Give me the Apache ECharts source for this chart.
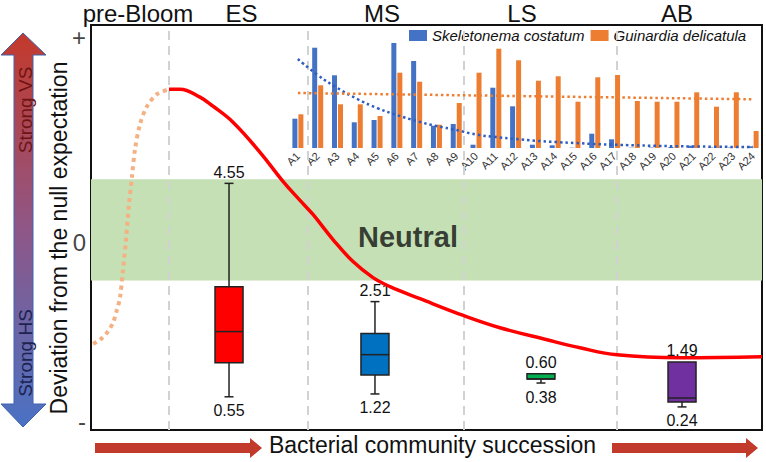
<!DOCTYPE html>
<html><head><meta charset="utf-8">
<script src="https://cdn.jsdelivr.net/npm/echarts@6/dist/echarts.min.js"></script>
<style>html,body{margin:0;padding:0;background:#fff}#c{width:766px;height:462px}</style>
</head><body><div id="c"></div>
<script>
// ---------- data (schematic units: x 0-100 along succession, y 0-100 deviation) ----------
const stages = ['pre-Bloom', 'ES', 'MS', 'LS', 'AB'];
const stageBoundaries = [11.62, 32.34, 55.59, 78.39];
const boxX = [20.57, 42.32, 67.06, 88.08];
const boxMin = [8.2, 8.9, 11.6, 5.7];
const boxQ1 = [16.6, 13.6, 12.6, 6.9];
const boxMedian = [24.3, 18.6, 12.6, 7.9];
const boxQ3 = [35.4, 23.8, 13.9, 16.8];
const boxMax = [60.9, 31.7, 13.9, 16.8];
const boxTopLabels = ['4.55', '2.51', '0.60', '1.49'];
const boxBottomLabels = ['0.55', '1.22', '0.38', '0.24'];
const curveX = [11.62, 13.26, 16.24, 18.18, 21.16, 25.19, 28.61, 31.15, 33.08, 36.07, 39.05, 42.03, 44.56, 49.03, 55.59, 60.95, 67.96, 72.88, 78.39, 87.78, 100.0];
const curveY = [84.16, 84.16, 82.18, 79.95, 75.99, 68.56, 61.39, 56.68, 53.22, 47.03, 41.58, 37.62, 35.40, 32.43, 28.22, 25.25, 22.28, 20.30, 18.56, 17.82, 18.07];
const preX = [0.30, 1.34, 2.38, 3.28, 3.87, 4.32, 4.77, 5.22, 5.66, 6.11, 6.56, 7.30, 8.35, 9.84, 11.62];
const preY = [21.29, 22.28, 24.01, 26.49, 29.70, 32.67, 39.60, 47.03, 55.69, 62.62, 69.31, 75.50, 79.95, 82.92, 84.16];
const neutralRange = [36.9, 61.9];
const neutralPos = [47.24, 47.77];
const yTickLabels = ['+', '0', '-'];
const yTickValues = [97.0, 46.3, 2.2];

// inset: phytoplankton abundance per sample
const samples = ['A1','A2','A3','A4','A5','A6','A7','A8','A9','A10','A11','A12','A13','A14','A15','A16','A17','A18','A19','A20','A21','A22','A23','A24'];
const skeletonema = [29.3, 100.3, 72.7, 25.7, 28, 105, 87, 22.3, 24, 3.3, 60.3, 41.7, 3.3, 2.7, 0.3, 14.3, 8.7, 0.3, 0.5, 1, 2.3, 0.5, 0.5, 1.7];
const guinardia = [33.7, 62.7, 43.7, 43.7, 32, 75.3, 66.3, 23.3, 45, 75.3, 99.3, 87.7, 67.3, 71.7, 46.3, 70.7, 73, 47, 46.3, 46.3, 55.7, 41.3, 55.7, 17];
const skeletonemaTrend = [89, 73, 60, 49, 40, 33, 27, 22, 18, 13.5, 11, 9, 7.3, 6, 5, 4, 3.3, 2.7, 2.2, 1.8, 1.5, 1.3, 1.1, 1.0];
const guinardiaTrendEnds = [['A1', 55], ['A24', 48.7]];

// ---------- styles ----------
const FONT = 'Liberation Sans, Arial, sans-serif';
const boxColors = ['#ff0000', '#0070c0', '#00b050', '#7030a0'];
const stageLabelPx = [138, 241.5, 382, 522, 677];

const chart = echarts.init(document.getElementById('c'), null, { renderer: 'svg' });

const boxData = boxX.map((x, i) => [x, boxMin[i], boxQ1[i], boxMedian[i], boxQ3[i], boxMax[i]]);

const arrowGrad = new echarts.graphic.LinearGradient(0, 0, 0, 1, [
  { offset: 0, color: '#c4392b' },
  { offset: 0.5, color: '#8e5787' },
  { offset: 1, color: '#4a72c4' }
]);

const option = {
  animation: false,
  backgroundColor: '#fff',
  textStyle: { fontFamily: FONT },
  grid: [
    { left: 91, right: 4, top: 25, bottom: 32, show: true, borderColor: '#111', borderWidth: 2, backgroundColor: 'transparent' },
    { left: 288, right: 3, top: 38, bottom: 314 }
  ],
  xAxis: [
    { type: 'value', gridIndex: 0, min: 0, max: 100, show: false },
    { type: 'category', gridIndex: 1, data: samples, boundaryGap: true,
      axisLine: { show: false }, axisTick: { show: false }, splitLine: { show: false },
      axisLabel: { rotate: 45, fontSize: 11, color: '#333', interval: 0, margin: 6, fontFamily: FONT } }
  ],
  yAxis: [
    { type: 'value', gridIndex: 0, min: 0, max: 100, show: false },
    { type: 'value', gridIndex: 1, min: 0, max: 110, show: false }
  ],
  legend: {
    data: ['Skeletonema costatum', 'Guinardia delicatula'],
    left: 404, top: 23, itemWidth: 18, itemHeight: 11, itemGap: 6, padding: [5, 5, 5, 5],
    icon: 'rect',
    textStyle: { fontStyle: 'italic', fontSize: 15, color: '#111', fontFamily: FONT }
  },
  graphic: [
    // left double arrow
    { type: 'polygon', z: 10,
      shape: { points: [[23, 33], [46, 55], [33, 55], [33, 404], [46, 404], [23, 427], [1, 404], [14, 404], [14, 55], [1, 55]] },
      style: { fill: arrowGrad, stroke: '#3f62b0', lineWidth: 1 } },
    { type: 'text', z: 11, x: 25, y: 110, rotation: Math.PI / 2,
      style: { text: 'Strong VS', fontSize: 19, fontFamily: FONT, fill: '#6e1414', align: 'center', verticalAlign: 'middle' } },
    { type: 'text', z: 11, x: 25, y: 353, rotation: Math.PI / 2,
      style: { text: 'Strong HS', fontSize: 19, fontFamily: FONT, fill: '#1c2350', align: 'center', verticalAlign: 'middle' } },
    // y-axis title
    { type: 'text', z: 11, x: 59, y: 238, rotation: Math.PI / 2,
      style: { text: 'Deviation from the null expectation', fontSize: 23, fontFamily: FONT, fill: '#111', align: 'center', verticalAlign: 'middle' } },
    // stage labels
    ...stages.map((s, i) => ({ type: 'text', z: 11, x: stageLabelPx[i], y: 13,
      style: { text: s, fontSize: 24, fontFamily: FONT, fill: '#111', align: 'center', verticalAlign: 'middle' } })),
    // bottom arrows
    { type: 'polygon', z: 10, shape: { points: [[95, 443], [250, 443], [250, 438], [262, 448], [250, 458], [250, 453], [95, 453]] },
      style: { fill: '#c23a2c' } },
    { type: 'polygon', z: 10, shape: { points: [[612, 443], [746, 443], [746, 438], [758, 448], [746, 458], [746, 453], [612, 453]] },
      style: { fill: '#c23a2c' } },
    { type: 'text', z: 11, x: 432.5, y: 445,
      style: { text: 'Bacterial community succession', fontSize: 23, fontFamily: FONT, fill: '#111', align: 'center', verticalAlign: 'middle' } }
  ],
  series: [
    // neutral band + stage dividers
    { type: 'line', xAxisIndex: 0, yAxisIndex: 0, data: [], z: 1,
      markArea: { silent: true, itemStyle: { color: '#c4e0b4' },
        data: [[{ yAxis: neutralRange[0], xAxis: 0 }, { yAxis: neutralRange[1], xAxis: 100 }]] },
      markLine: { silent: true, symbol: 'none', label: { show: false },
        lineStyle: { color: '#d2d2d2', type: [9, 6], width: 2 },
        data: stageBoundaries.map(v => ({ xAxis: v })) } },
    // pre-bloom dotted curve
    { type: 'line', xAxisIndex: 0, yAxisIndex: 0, z: 3, smooth: 0.3, symbol: 'none',
      data: preX.map((x, i) => [x, preY[i]]),
      lineStyle: { color: '#f4b183', width: 4, type: [4, 4], cap: 'butt' } },
    // boxes
    { type: 'custom', xAxisIndex: 0, yAxisIndex: 0, z: 4, data: boxData,
      renderItem: function (params, api) {
        const i = params.dataIndex;
        const cx = api.coord([api.value(0), 0])[0];
        const y = k => api.coord([api.value(0), api.value(k)])[1];
        const yMin = y(1), yQ1 = y(2), yMed = y(3), yQ3 = y(4), yMax = y(5);
        const hw = 14, cw = 4.5;
        const ls = { stroke: '#222', lineWidth: 1.5 };
        const children = [];
        if (yMax < yQ3 - 0.5) {
          children.push({ type: 'line', shape: { x1: cx, y1: yMax, x2: cx, y2: yQ3 }, style: ls });
          children.push({ type: 'line', shape: { x1: cx - cw, y1: yMax, x2: cx + cw, y2: yMax }, style: ls });
        }
        if (yMin > yQ1 + 0.5) {
          children.push({ type: 'line', shape: { x1: cx, y1: yQ1, x2: cx, y2: yMin }, style: ls });
          children.push({ type: 'line', shape: { x1: cx - cw, y1: yMin, x2: cx + cw, y2: yMin }, style: ls });
        }
        children.push({ type: 'rect', shape: { x: cx - hw, y: yQ3, width: 2 * hw, height: Math.max(yQ1 - yQ3, 1) },
          style: { fill: boxColors[i], stroke: '#222', lineWidth: 1.5 } });
        children.push({ type: 'line', shape: { x1: cx - hw, y1: yMed, x2: cx + hw, y2: yMed }, style: ls });
        children.push({ type: 'text', x: cx, y: yMax - 3,
          style: { text: boxTopLabels[i], fontSize: 16, fontFamily: FONT, fill: '#111', align: 'center', verticalAlign: 'bottom' } });
        children.push({ type: 'text', x: cx, y: yMin + 6,
          style: { text: boxBottomLabels[i], fontSize: 16, fontFamily: FONT, fill: '#111', align: 'center', verticalAlign: 'top' } });
        return { type: 'group', children };
      } },
    // main red curve
    { type: 'line', xAxisIndex: 0, yAxisIndex: 0, z: 5, smooth: 0.4, symbol: 'none',
      data: curveX.map((x, i) => [x, curveY[i]]),
      lineStyle: { color: '#ff0000', width: 3.5 } },
    // Neutral label
    { type: 'scatter', xAxisIndex: 0, yAxisIndex: 0, z: 6, symbolSize: 0, silent: true,
      data: [neutralPos],
      label: { show: true, position: 'inside', formatter: 'Neutral', fontSize: 29, fontWeight: 'bold', color: '#111', fontFamily: FONT } },
    // y tick labels
    { type: 'scatter', xAxisIndex: 0, yAxisIndex: 0, z: 6, symbolSize: 0, silent: true, clip: false,
      data: yTickValues.map((v, i) => ({ value: [0, v], name: yTickLabels[i] })),
      label: { show: true, position: 'left', distance: 5, formatter: p => p.name, fontSize: 24, color: '#111', fontFamily: FONT } },
    // inset bars
    { name: 'Skeletonema costatum', type: 'bar', xAxisIndex: 1, yAxisIndex: 1, z: 7,
      data: skeletonema, barWidth: 5, barGap: '20%', itemStyle: { color: '#4472c4' } },
    { name: 'Guinardia delicatula', type: 'bar', xAxisIndex: 1, yAxisIndex: 1, z: 7,
      data: guinardia, barWidth: 5, barGap: '20%', itemStyle: { color: '#ed7d31' } },
    { name: 'Skeletonema trend', type: 'line', xAxisIndex: 1, yAxisIndex: 1, z: 8, smooth: true, symbol: 'none',
      data: skeletonemaTrend, lineStyle: { color: '#2f5dbf', width: 2.5, type: [2.5, 3] } },
    { name: 'Guinardia trend', type: 'line', xAxisIndex: 1, yAxisIndex: 1, z: 8, symbol: 'none',
      data: guinardiaTrendEnds, lineStyle: { color: '#ed7d31', width: 2.5, type: [2.5, 3] } }
  ]
};
chart.setOption(option);
</script>
</body></html>
